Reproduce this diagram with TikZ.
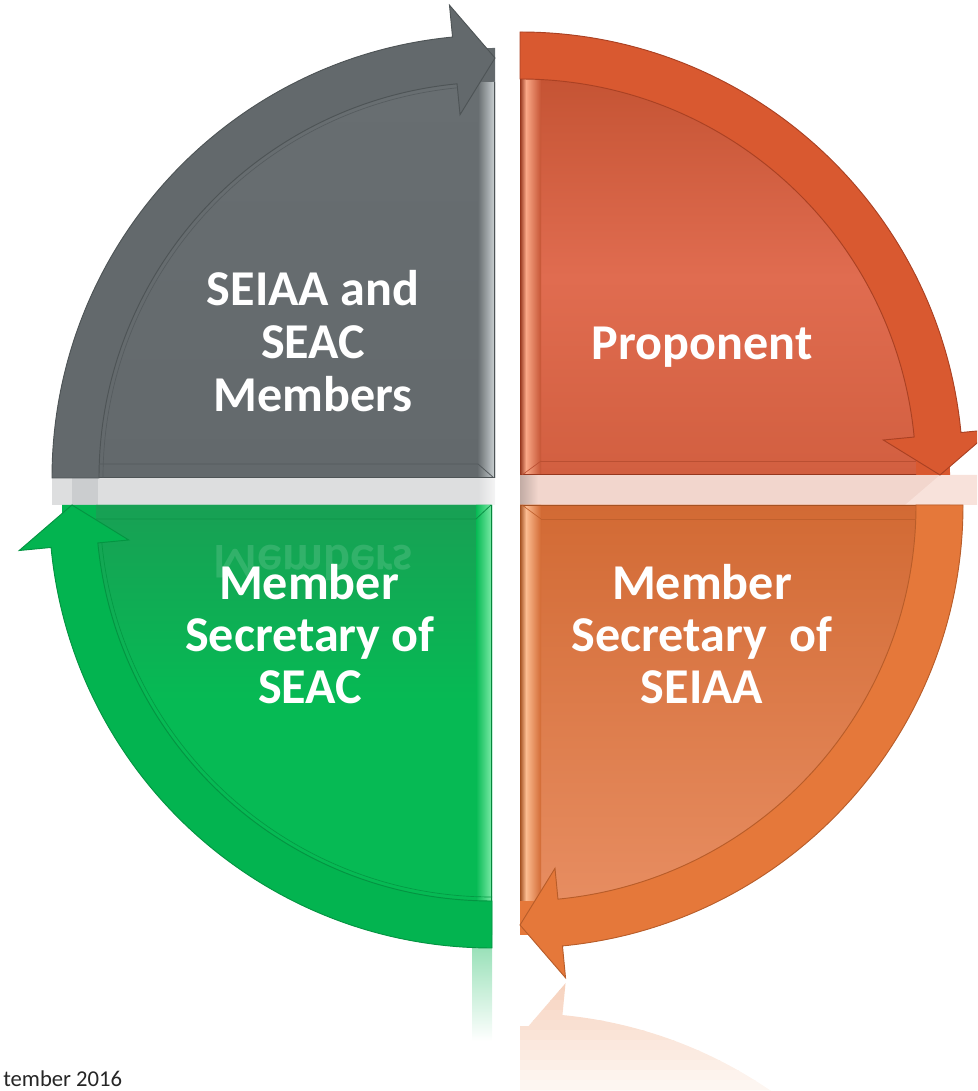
\documentclass[tikz,border=0pt]{standalone}
\usepackage{fontspec}
\setmainfont{Carlito}
\definecolor{gband}{RGB}{99,105,108}
\definecolor{gin}{RGB}{104,110,113}
\definecolor{gline}{RGB}{78,84,86}
\definecolor{gbev}{RGB}{205,211,213}
\definecolor{oaband}{RGB}{217,89,48}
\definecolor{oainA}{RGB}{197,84,52}
\definecolor{oainB}{RGB}{224,108,80}
\definecolor{oainC}{RGB}{210,95,64}
\definecolor{oaline}{RGB}{150,55,30}
\definecolor{oahi}{RGB}{250,168,135}
\definecolor{obband}{RGB}{229,120,58}
\definecolor{obinA}{RGB}{210,106,52}
\definecolor{obinB}{RGB}{231,141,97}
\definecolor{obline}{RGB}{165,82,35}
\definecolor{obhi}{RGB}{252,188,145}
\definecolor{nband}{RGB}{3,180,80}
\definecolor{ninA}{RGB}{24,160,84}
\definecolor{ninB}{RGB}{6,186,84}
\definecolor{nline}{RGB}{5,135,60}
\definecolor{nhi}{RGB}{125,235,168}
\definecolor{gref}{RGB}{221,222,223}
\definecolor{grefd}{RGB}{203,205,207}
\definecolor{oref}{RGB}{242,214,205}
\definecolor{orefl}{RGB}{248,226,219}
\tikzset{
  lbl/.style={font=\fontsize{37.6}{41}\selectfont\bfseries, text=white, anchor=base, inner sep=0pt},
  foot/.style={font=\fontsize{17}{19}\selectfont, text=black!85, anchor=base west, inner sep=0pt},
}
\begin{document}
\begin{tikzpicture}[x=0.75pt,y=0.75pt]
\useasboundingbox (0,0) rectangle (977,1091);
\clip (0,0) rectangle (977,1091);

% ---------- reflections in the gap ----------
\fill[gref] (52,586) rectangle (495,613);
\fill[grefd] (72,586) rectangle (98,613);
\shade[left color=gref, right color=white!92!gray] (478,586) rectangle (495,613);
\fill[oref] (520,586) rectangle (963,616);
\fill[orefl] (940,616) -- (905,586) -- (977,586) -- (977,616) -- cycle;
\shade[left color=oref!80!black, middle color=white!85!oref, right color=oref] (520,586) rectangle (538,616);

% ---------- reflection below the bottom-right quadrant ----------
\foreach \k in {0,...,11}{
  \pgfmathtruncatemacro\pp{34-2.7*\k}
  \begin{scope}
    \clip (515,{110.5-10*\k}) rectangle (980,{100.5-10*\k});
    \begin{scope}[shift={(520,-365)},yscale=-1]
      \fill[obband!\pp!white] (0,0) -- (-90:430) arc[start angle=-90,end angle=0,radius=430] -- cycle;
      \fill[obband!\pp!white] (0:443) arc[start angle=0,end angle=-84.5,radius=443] -- (-84.5:475) -- (-90:420) -- (-84.5:365) -- (-84.5:396) arc[start angle=-84.5,end angle=0,radius=396] -- cycle;
    \end{scope}
  \end{scope}
}
\shade[top color=nband!40!white, bottom color=white] (472,143) rectangle (492,50);

% ---------- gray quadrant (top left) ----------
\begin{scope}[shift={(495,613)}]
  \fill[gband] (0,0) -- (90:430) arc[start angle=90,end angle=180,radius=430] -- cycle;
  \shade[top color=gin, bottom color=gband] (0,0) -- (90:396) arc[start angle=90,end angle=180,radius=396] -- cycle;
  \begin{scope}
    \clip (0,0) -- (90:396) arc[start angle=90,end angle=180,radius=396] -- cycle;
    \shade[left color=gin, right color=gbev] (-17,0) rectangle (0,400);
    \draw[gline, line width=1.2] (-0.6,0) -- (-0.6,400);
    \draw[gline, line width=1] (-400,0.6) -- (0,0.6);
    \draw[gline!70!gband, line width=0.6] (-400,14) -- (-17,14) -- (-1,0);
  \end{scope}
  \filldraw[fill=gband, draw=gline, line width=0.7] (180:443) arc[start angle=180,end angle=95.5,radius=443] -- (95.5:475) -- (90:420) -- (95.5:365) -- (95.5:396) arc[start angle=95.5,end angle=180,radius=396] -- cycle;
  \draw[gline!60!gband, line width=0.5] (180:392) arc[start angle=180,end angle=95.5,radius=392];
\end{scope}

% ---------- orange quadrant (top right) ----------
\begin{scope}[shift={(520,616)}]
  \fill[oaband] (0,0) -- (0:430) arc[start angle=0,end angle=90,radius=430] -- cycle;
  \shade[top color=oainA, bottom color=oainC, middle color=oainB] (0,0) -- (0:396) arc[start angle=0,end angle=90,radius=396] -- cycle;
  \begin{scope}
    \clip (0,0) -- (0:396) arc[start angle=0,end angle=90,radius=396] -- cycle;
    \shade[left color=oaline, right color=oahi] (0,0) rectangle (6,400);
    \shade[left color=oahi, right color=oainA] (6,0) rectangle (21,400);
    \draw[oaline, line width=1] (0,0.6) -- (400,0.6);
    \draw[oaline!40!oainC, line width=0.5] (21,14) -- (400,14);
    \draw[oaline!40!oainC, line width=0.5] (2,0) -- (21,14);
  \end{scope}
  \filldraw[fill=oaband, draw=oaline!70!oaband, line width=0.7] (90:443) arc[start angle=90,end angle=5.5,radius=443] -- (5.5:475) -- (0:420) -- (5.5:365) -- (5.5:396) arc[start angle=5.5,end angle=90,radius=396] -- cycle;
\end{scope}

% ---------- orange quadrant (bottom right) ----------
\begin{scope}[shift={(520,586)}]
  \fill[obband] (0,0) -- (-90:430) arc[start angle=-90,end angle=0,radius=430] -- cycle;
  \shade[top color=obinA, bottom color=obinB] (0,0) -- (-90:396) arc[start angle=-90,end angle=0,radius=396] -- cycle;
  \begin{scope}
    \clip (0,0) -- (-90:396) arc[start angle=-90,end angle=0,radius=396] -- cycle;
    \shade[left color=obline, right color=obhi] (0,-400) rectangle (6,0);
    \shade[left color=obhi, right color=obinA] (6,-400) rectangle (21,0);
    \draw[obline, line width=1] (0,-0.6) -- (400,-0.6);
    \draw[obline!40!obinA, line width=0.5] (21,-14) -- (400,-14);
    \draw[obline!40!obinA, line width=0.5] (2,0) -- (21,-14);
  \end{scope}
  \filldraw[fill=obband, draw=obline!70!obband, line width=0.7] (0:443) arc[start angle=0,end angle=-84.5,radius=443] -- (-84.5:475) -- (-90:420) -- (-84.5:365) -- (-84.5:396) arc[start angle=-84.5,end angle=0,radius=396] -- cycle;
\end{scope}

% ---------- green quadrant (bottom left) ----------
\begin{scope}[shift={(492,586)}]
  \fill[nband] (0,0) -- (180:430) arc[start angle=180,end angle=270,radius=430] -- cycle;
  \shade[top color=ninA, bottom color=ninB, middle color=ninB] (0,0) -- (180:396) arc[start angle=180,end angle=270,radius=396] -- cycle;
  \begin{scope}
    \clip (0,0) -- (180:396) arc[start angle=180,end angle=270,radius=396] -- cycle;
    \shade[left color=ninB, right color=nhi] (-16,-400) rectangle (0,0);
    \draw[nline, line width=1.2] (-0.6,-400) -- (-0.6,0);
    \draw[nline!60!ninA, line width=0.6] (-400,-14) -- (-16,-14) -- (-1,0);
  \end{scope}
  \filldraw[fill=nband, draw=nline!70!nband, line width=0.7] (270:443) arc[start angle=270,end angle=185.5,radius=443] -- (185.5:475) -- (180:420) -- (185.5:365) -- (185.5:396) arc[start angle=185.5,end angle=270,radius=396] -- cycle;
  \draw[nline!60!nband, line width=0.5] (270:392) arc[start angle=270,end angle=185.5,radius=392];
\end{scope}

% ---------- labels ----------
\node[lbl] (g1) at (313,785) {SEIAA and};
\node[lbl] (g2) at (313,732) {SEAC};
\node[lbl] (g3) at (313,679) {Members};
\node[lbl] (p1) at (702,731) {Proponent};
\node[lbl, opacity=0.13, yscale=-1] (gr) at (313,545) {Members};
\node[lbl] (n1) at (309,491) {Member};
\node[lbl] (n2) at (310,439) {Secretary of};
\node[lbl] (n3) at (310,387) {SEAC};
\node[lbl] (o1) at (702,491) {Member};
\node[lbl] (o2) at (702,439) {Secretary~ of};
\node[lbl] (o3) at (702,387) {SEIAA};
\node[foot] (ft) at (3,4) {tember 2016};
\end{tikzpicture}
\end{document}
